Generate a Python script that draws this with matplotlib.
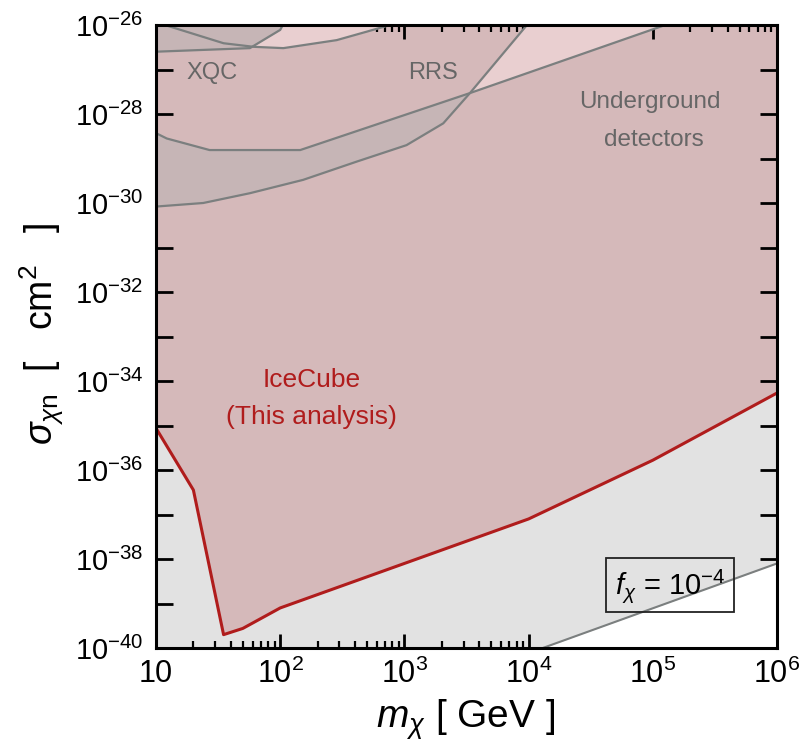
import numpy as np
import matplotlib
matplotlib.use("Agg")
import matplotlib.pyplot as plt
from matplotlib.patches import Rectangle
from matplotlib.ticker import FixedLocator, NullFormatter, LogLocator

plt.rcParams['font.family'] = ['Liberation Sans', 'DejaVu Sans']
plt.rcParams['mathtext.fontset'] = 'custom'
plt.rcParams['mathtext.rm'] = 'Liberation Sans'
plt.rcParams['mathtext.it'] = 'Liberation Sans:italic'
plt.rcParams['mathtext.bf'] = 'Liberation Sans:bold'

# ---- data (mass in GeV, cross-section exponents log10(sigma/cm^2)) ----
ice_m = [10, 20, 35, 50, 100, 1e4, 1e5, 1e6]
ice_logs = [-35.06, -36.45, -39.7, -39.56, -39.1, -37.1, -35.78, -34.27]

fchi_m = [1.3e4, 1e6]
fchi_logs = [-40.0, -38.1]

ugA_m = [10, 12.2, 27, 145, 3370, 1.26e5]
ugA_logs = [-28.43, -28.55, -28.81, -28.81, -27.53, -26.0]

ugB_m = [10, 24, 57, 153, 413, 1040, 2055, 3370, 9700]
ugB_logs = [-30.08, -30.0, -29.78, -29.48, -29.07, -28.7, -28.21, -27.53, -26.0]

xqc_m = [10, 57, 100, 105]
xqc_logs = [-26.6, -26.52, -26.11, -26.0]

rrs_m = [11.8, 35, 61, 106, 285, 497, 766]
rrs_logs = [-26.0, -26.41, -26.49, -26.52, -26.34, -26.15, -26.0]

x_ticks = [10, 1e2, 1e3, 1e4, 1e5, 1e6]
x_ticklabels = ['10', r'$10^2$', r'$10^3$', r'$10^4$', r'$10^5$', r'$10^6$']
y_exps = list(range(-40, -25))

XMIN, XMAX = 10, 1e6
YMIN, YMAX = 1e-40, 1e-26

PINK = '#d5b9ba'
LIGHTPINK = '#e9cfd0'
BAND = '#c6b5b6'
GRAYBG = '#e2e2e2'
LINEGRAY = '#7b7f7f'
RED = '#b01c1c'
TXTGRAY = '#666666'

fig = plt.figure(figsize=(8.01, 7.54), dpi=100)
ax = fig.add_axes([156/801, 1-648/754, (777-156)/801, (648-25)/754])
ax.set_xscale('log')
ax.set_yscale('log')
ax.set_xlim(XMIN, XMAX)
ax.set_ylim(YMIN, YMAX)

ice_s = 10.0**np.array(ice_logs)
ax.fill_between(ice_m, YMIN, ice_s, color=GRAYBG, lw=0, zorder=1)
ax.fill_between(ice_m, ice_s, YMAX, color=PINK, lw=0, zorder=1)

fchi_s = 10.0**np.array(fchi_logs)
ax.fill_between(fchi_m, YMIN, fchi_s, color='white', lw=0, zorder=2)
ax.plot(fchi_m, fchi_s, color=LINEGRAY, lw=1.5, zorder=3)

ugA_s = 10.0**np.array(ugA_logs)
ugB_s = 10.0**np.array(ugB_logs)
band_x = list(ugB_m[:8]) + list(ugA_m[:5])[::-1]
band_y = list(ugB_s[:8]) + list(ugA_s[:5])[::-1]
ax.fill(band_x, band_y, color=BAND, lw=0, zorder=2)
tri_x = list(ugB_m[7:]) + [ugA_m[5]] + [ugA_m[4]]
tri_y = list(ugB_s[7:]) + [ugA_s[5]] + [ugA_s[4]]
ax.fill(tri_x, tri_y, color=LIGHTPINK, lw=0, zorder=2)

rrs_s = 10.0**np.array(rrs_logs)
ax.fill_between(rrs_m, rrs_s, YMAX, color=LIGHTPINK, lw=0, zorder=2)
xqc_s = 10.0**np.array(xqc_logs)
ax.fill_between(xqc_m, xqc_s, YMAX, color=BAND, lw=0, zorder=2)

for mm, ss in [(ugA_m, ugA_s), (ugB_m, ugB_s), (rrs_m, rrs_s), (xqc_m, xqc_s)]:
    ax.plot(mm, ss, color=LINEGRAY, lw=1.6, zorder=3)

ax.plot(ice_m, ice_s, color=RED, lw=2.2, zorder=4)

# text labels
ax.text(0.090, 0.923, 'XQC', transform=ax.transAxes, ha='center', va='center',
        fontsize=17, color=TXTGRAY, zorder=5)
ax.text(0.446, 0.923, 'RRS', transform=ax.transAxes, ha='center', va='center',
        fontsize=17, color=TXTGRAY, zorder=5)
ax.text(0.795, 0.876, 'Underground', transform=ax.transAxes, ha='center', va='center',
        fontsize=17.5, color=TXTGRAY, zorder=5)
ax.text(0.802, 0.815, 'detectors', transform=ax.transAxes, ha='center', va='center',
        fontsize=17.5, color=TXTGRAY, zorder=5)
ax.text(0.251, 0.430, 'IceCube', transform=ax.transAxes, ha='center', va='center',
        fontsize=19, color=RED, zorder=5)
ax.text(0.251, 0.371, '(This analysis)', transform=ax.transAxes, ha='center', va='center',
        fontsize=19, color=RED, zorder=5)

ax.add_patch(Rectangle((0.725, 0.058), 0.206, 0.086, transform=ax.transAxes,
                       fill=False, edgecolor='#222222', lw=1.3, zorder=5))
ax.text(0.828, 0.100, r'$f_\chi$ = 10$^{-4}$', transform=ax.transAxes, ha='center',
        va='center', fontsize=21, color='black', zorder=6)

for sp in ax.spines.values():
    sp.set_linewidth(2.2)
    sp.set_zorder(10)

ax.xaxis.set_major_locator(FixedLocator(x_ticks))
ax.set_xticklabels(x_ticklabels)
ax.xaxis.set_minor_locator(LogLocator(base=10, subs=np.arange(2, 10), numticks=20))
ax.xaxis.set_minor_formatter(NullFormatter())

ax.yaxis.set_major_locator(FixedLocator([10.0**e for e in y_exps]))
ax.set_yticklabels([(r'$10^{%d}$' % e) if e % 2 == 0 else '' for e in y_exps])
ax.yaxis.set_minor_locator(FixedLocator([]))

ax.tick_params(axis='both', which='major', direction='in', top=True, right=True,
               width=2.0, labelsize=22, zorder=11)
ax.tick_params(axis='y', which='major', labelsize=21)
ax.tick_params(axis='x', which='major', length=10, pad=8)
ax.tick_params(axis='y', which='major', length=12, pad=9)
ax.tick_params(axis='x', which='minor', direction='in', top=True, length=5, width=1.6)

fig.text(466/801, 1-720/754, r'$m_\chi$ [ GeV ]', ha='center', va='center', fontsize=28)
fig.text(42/801, 1-334/754, r'$\sigma_{\chi\mathrm{n}}$  [   cm$^2$   ]', ha='center',
         va='center', rotation=90, fontsize=27)

fig.savefig('out.png', dpi=100)
